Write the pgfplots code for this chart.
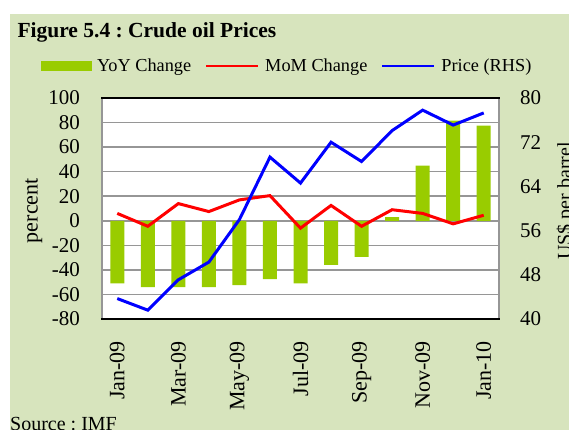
\documentclass[border=0pt]{standalone}
\usepackage{fontspec}
\setmainfont{Liberation Serif}
\usepackage{pgfplots}
\pgfplotsset{compat=1.18}
\definecolor{bg}{RGB}{215,228,189}
\definecolor{bargreen}{RGB}{153,204,0}
\definecolor{gridgray}{RGB}{150,150,150}
\frenchspacing
\begin{document}
\begin{tikzpicture}[x=1pt,y=1pt]
\fill[white] (0,0) rectangle (569,430);
\fill[bg] (10,0) rectangle (569,416);
\node[anchor=base west, font=\fontsize{21.5}{24}\selectfont\bfseries, inner sep=0pt] at (17.3,392) {Figure 5.4 : Crude oil Prices};
\node[anchor=base west, font=\fontsize{20}{22}\selectfont, inner sep=0pt] at (10,-1) {Source : IMF};

\begin{axis}[
  at={(102pt,111pt)}, anchor=south west, width=397pt, height=221pt, scale only axis,
  xmin=-0.5, xmax=12.5, ymin=-80, ymax=100, ytick={-80,-60,...,100},
  xtick={0,2,...,12}, xticklabels={Jan-09,Mar-09,May-09,Jul-09,Sep-09,Nov-09,Jan-10},
  axis background/.style={fill=white},
  axis line style={draw=none},
  ymajorgrids, grid style={gridgray, line width=1.5pt},
  major tick length=0pt,
  tick label style={font=\fontsize{21}{21}\selectfont, inner sep=0pt},
  /pgf/number format/assume math mode=true,
  yticklabel shift=22pt,
  xticklabel shift=22pt,
  xticklabel style={rotate=90, anchor=east, font=\fontsize{22}{22}\selectfont},
  ylabel={percent},
  ylabel style={at={(axis description cs:-0.172,0.49)}, anchor=center, font=\fontsize{22}{22}\selectfont},
]
\addplot[ybar, bar width=14pt, fill=bargreen, draw=none] coordinates {
(0,-51) (1,-54) (2,-54) (3,-54) (4,-52.5) (5,-47.5) (6,-51) (7,-36) (8,-29.5) (9,3) (10,45) (11,81.5) (12,77.5)};
\addplot[red, line width=3pt, mark=none] coordinates {
(0,6) (1,-4.5) (2,14) (3,7.5) (4,17) (5,20.5) (6,-6) (7,12.5) (8,-4.5) (9,9) (10,6) (11,-2.5) (12,4.5)};
\end{axis}

\begin{axis}[
  at={(102pt,111pt)}, anchor=south west, width=397pt, height=221pt, scale only axis,
  xmin=-0.5, xmax=12.5, ymin=40, ymax=80, ytick={40,48,...,80},
  axis y line*=right, axis x line=none,
  axis line style={draw=none},
  major tick length=0pt,
  tick label style={font=\fontsize{21}{21}\selectfont, inner sep=0pt},
  /pgf/number format/assume math mode=true,
  yticklabel shift=21pt,
  ylabel={US\$ per barrel},
  ylabel style={at={(axis description cs:1.169,0.534)}, anchor=center, rotate=0, font=\fontsize{20}{20}\selectfont},
  legend style={at={(0.466,1.145)}, anchor=center, draw=none, fill=none,
    font=\fontsize{18.3}{19}\selectfont,
    /tikz/every odd column/.append style={column sep=4pt},
    /tikz/every even column/.append style={column sep=12pt}},
  legend columns=3,
]
\addlegendimage{legend image code/.code={\fill[bargreen] (0pt,-4.5pt) rectangle (50pt,4.5pt);}}
\addlegendentry{YoY Change}
\addlegendimage{legend image code/.code={\draw[red, line width=2pt] (0pt,0pt) -- (52pt,0pt);}}
\addlegendentry{MoM Change}
\addplot[blue, line width=3pt, mark=none,
  legend image code/.code={\draw[blue, line width=2pt] (0pt,0pt) -- (52pt,0pt);}] coordinates {
(0,43.7) (1,41.6) (2,47.1) (3,50.3) (4,58.0) (5,69.3) (6,64.6) (7,72.0) (8,68.5) (9,74.1) (10,77.8) (11,75.1) (12,77.3)};
\addlegendentry{Price (RHS)}
\end{axis}

\draw[gridgray, line width=1.5pt] (102,111) -- (102,332);
\draw[gridgray, line width=1.5pt] (499,111) -- (499,332);
\draw[black, line width=1.5pt] (101.25,332) -- (499.75,332);
\draw[black, line width=2pt] (101.25,111) -- (499.75,111);

\pgfresetboundingbox
\path (0,0) rectangle (569,430);
\end{tikzpicture}
\end{document}
